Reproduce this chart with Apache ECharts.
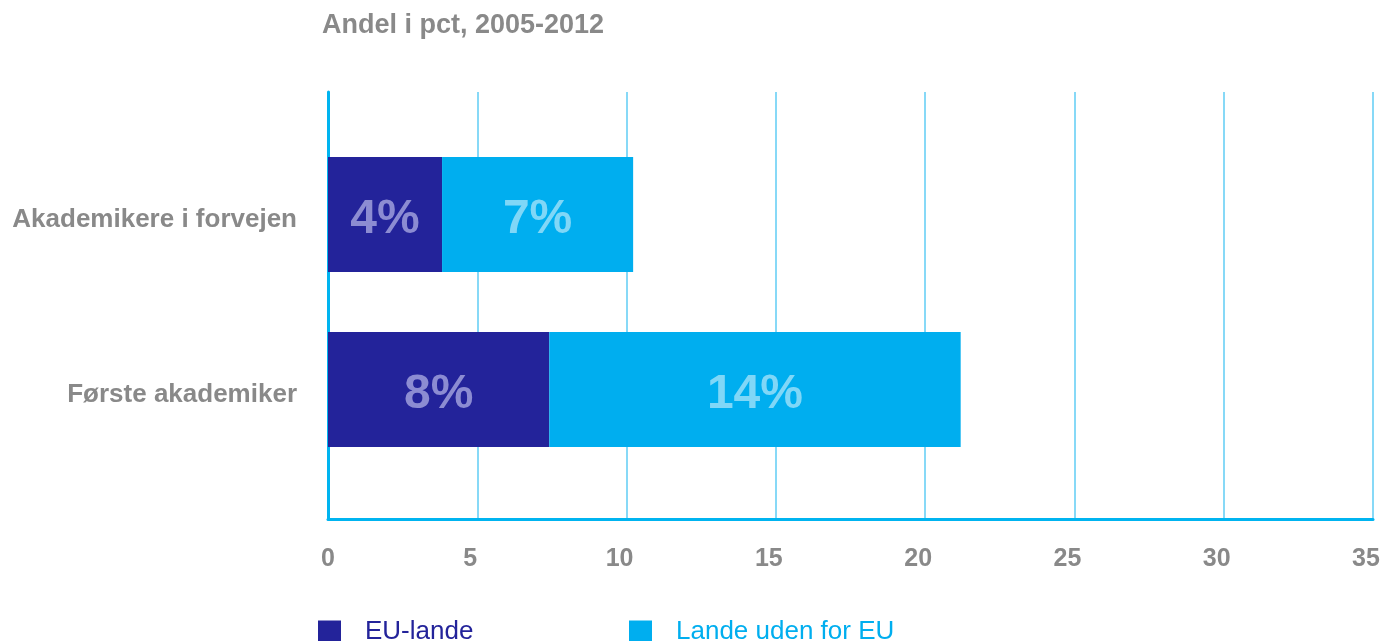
<!DOCTYPE html>
<html>
<head>
<meta charset="utf-8">
<script src="https://cdn.jsdelivr.net/npm/echarts@6/dist/echarts.min.js"></script>
<style>html,body{margin:0;padding:0;background:#fff}#c{width:1382px;height:641px}</style>
</head>
<body>
<div id="c"></div>
<script>
const categories = ['Akademikere i forvejen', 'Første akademiker'];
const euValues = [3.82, 7.41];
const nonEuValues = [6.40, 13.78];
const euLabels = ['4%', '8%'];
const nonEuLabels = ['7%', '14%'];
const xTicks = [0, 5, 10, 15, 20, 25, 30, 35];
const seriesNames = ['EU-lande', 'Lande uden for EU'];
const titleText = 'Andel i pct, 2005-2012';

const FONT = '"Liberation Sans", Arial, Helvetica, sans-serif';
const GRAY = '#898989';
const DARK = '#23239a';
const CYAN = '#00aeef';
const AXIS = '#00b4f0';

const tickText = { fontFamily: FONT, fontSize: 25, fontWeight: 'bold', color: GRAY };
const catText = { fontFamily: FONT, fontSize: 26, fontWeight: 'bold', color: GRAY };

const chart = echarts.init(document.getElementById('c'));
chart.setOption({
  animation: false,
  title: {
    text: titleText, left: 317, top: 7,
    textStyle: { fontFamily: FONT, fontSize: 27, fontWeight: 'bold', color: GRAY }
  },
  legend: [
    {
      data: [seriesNames[0]], left: 313, top: 614, itemWidth: 23, itemHeight: 23,
      icon: 'rect',
      textStyle: { fontFamily: FONT, fontSize: 26, color: DARK, padding: [0, 0, 0, 19] }
    },
    {
      data: [seriesNames[1]], left: 624, top: 614, itemWidth: 23, itemHeight: 23,
      icon: 'rect',
      textStyle: { fontFamily: FONT, fontSize: 26, color: CYAN, padding: [0, 0, 0, 19] }
    }
  ],
  grid: [
    { left: 328, right: 9, top: 92, bottom: 122, containLabel: false, outerBoundsMode: 'none' },
    { left: 328, right: 9, top: 127, height: 350, containLabel: false, outerBoundsMode: 'none' }
  ],
  xAxis: [
    {
      gridIndex: 0, type: 'value', min: 0, max: 35, interval: 5,
      axisLine: { show: true, lineStyle: { color: AXIS, width: 3 } },
      axisTick: { show: false },
      splitLine: { show: true, lineStyle: { color: '#5fcdf5', width: 1.5 } },
      axisLabel: {
        margin: 28,
        ...tickText,
        formatter: v => xTicks.includes(v) ? (v === 0 ? '{z|0}' : '{a|' + v + '}') : '',
        rich: {
          z: { ...tickText },
          a: { ...tickText, padding: [0, 14, 0, 0] }
        }
      }
    },
    {
      gridIndex: 1, type: 'value', min: 0, max: 35, show: false,
      splitLine: { show: false }
    }
  ],
  yAxis: [
    {
      gridIndex: 0, type: 'value', min: 0, max: 1,
      axisLine: { show: true, lineStyle: { color: AXIS, width: 3 } },
      axisTick: { show: false }, axisLabel: { show: false }, splitLine: { show: false }
    },
    {
      gridIndex: 1, type: 'category', data: categories, inverse: true,
      axisLine: { show: false }, axisTick: { show: false }, splitLine: { show: false },
      axisLabel: {
        margin: 31, ...catText,
        formatter: v => '{c|' + v + '}',
        rich: { c: { ...catText, padding: [10, 0, 0, 0] } }
      }
    }
  ],
  series: [
    {
      name: seriesNames[0], type: 'bar', stack: 'a', xAxisIndex: 1, yAxisIndex: 1,
      data: euValues, barWidth: 115, itemStyle: { color: DARK },
      label: {
        show: true, position: 'inside', offset: [0, 5], fontFamily: FONT, fontSize: 48, fontWeight: 'bold',
        color: '#8c8cd2', formatter: p => euLabels[p.dataIndex]
      }
    },
    {
      name: seriesNames[1], type: 'bar', stack: 'a', xAxisIndex: 1, yAxisIndex: 1,
      data: nonEuValues, barWidth: 115, itemStyle: { color: CYAN },
      label: {
        show: true, position: 'inside', offset: [0, 5], fontFamily: FONT, fontSize: 48, fontWeight: 'bold',
        color: '#80d7f7', formatter: p => nonEuLabels[p.dataIndex]
      }
    }
  ]
});
</script>
</body>
</html>
